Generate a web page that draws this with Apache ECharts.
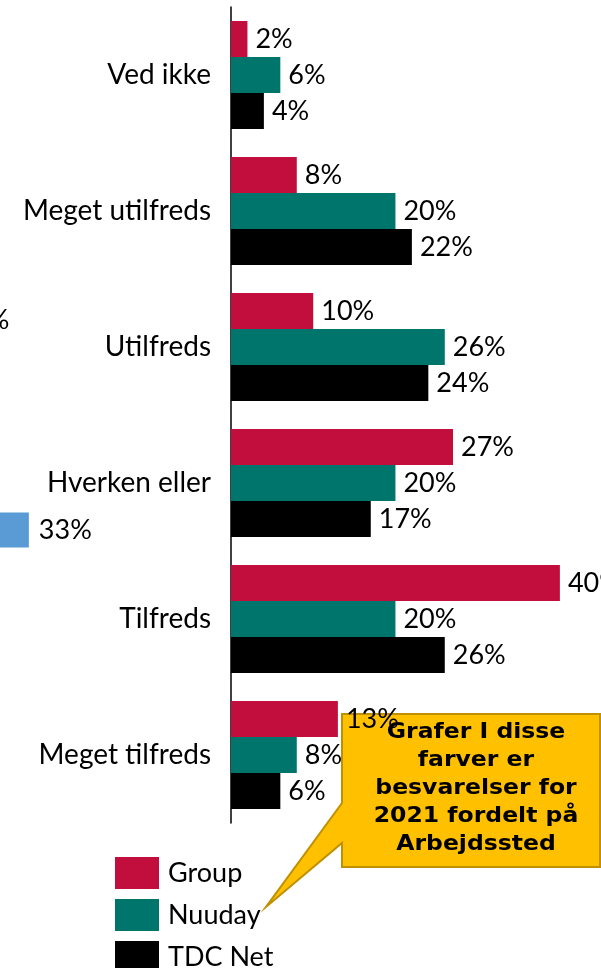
<!DOCTYPE html>
<html>
<head>
<meta charset="utf-8">
<script src="https://cdn.jsdelivr.net/npm/echarts@6/dist/echarts.min.js"></script>
<style>
  html, body { margin: 0; padding: 0; background: #fff; }
  #chart { width: 601px; height: 968px; }
</style>
</head>
<body>
<div id="chart"></div>
<script>
// svarkategorier (top -> bund)
const categories = ['Ved ikke', 'Meget utilfreds', 'Utilfreds', 'Hverken eller', 'Tilfreds', 'Meget tilfreds']
const groupValues = [2, 8, 10, 27, 40, 13]
const nuudayValues = [6, 20, 26, 20, 20, 8]
const tdcNetValues = [4, 22, 24, 17, 26, 6]
const legendNames = ['Group', 'Nuuday', 'TDC Net']

// rest af en anden graf, der er skåret af i venstre kant
const sideCats = ['a', 'b']
const sideValues = [23, 33]

const calloutText = 'Grafer I disse\nfarver er\nbesvarelser for\n2021 fordelt på\nArbejdssted'

const font = 'Lato, "Open Sans", sans-serif'

let chart = echarts.init(document.getElementById('chart'))

function valueLabel(distance) {
  return {
    show: true,
    position: 'right',
    distance: distance,
    formatter: '{c}%',
    color: '#000',
    fontSize: 27,
    fontFamily: font
  }
}

function barSeries(name, data, color) {
  return {
    name: name,
    type: 'bar',
    z: 10,
    data: data,
    barWidth: 36,
    barGap: '0%',
    itemStyle: { color: color },
    label: valueLabel(8)
  }
}

// en legend pr. serie, saa de staar under hinanden (sidste skaeres af i bunden)
let legends = legendNames.map((name, i) => ({
  orient: 'vertical',
  left: 115,
  top: 857 + i * 42,
  padding: 0,
  itemWidth: 44,
  itemHeight: 32,
  icon: 'rect',
  data: [name],
  textStyle: { color: '#000', fontSize: 27, fontFamily: font, padding: [0, 0, 0, 4] }
}))

let option = {
  animation: false,
  backgroundColor: '#fff',
  grid: [
    { left: 231, top: 7, width: 371, height: 816 },
    { left: 0, top: 215, width: 371, height: 420 }
  ],
  xAxis: [
    { gridIndex: 0, type: 'value', min: 0, max: 45, show: false },
    // nul-punktet ligger uden for billedet til venstre
    { gridIndex: 1, type: 'value', min: 29.5, max: 74.5, show: false }
  ],
  yAxis: [
    {
      gridIndex: 0,
      type: 'category',
      inverse: true,
      data: categories,
      axisLine: { show: true, lineStyle: { color: '#000', width: 1.5 } },
      axisTick: { show: false },
      axisLabel: { margin: 20, color: '#000', fontSize: 28, fontFamily: font }
    },
    { gridIndex: 1, type: 'category', inverse: true, data: sideCats, show: false }
  ],
  legend: legends,
  series: [
    barSeries('Group', groupValues, '#C20E3C'),
    barSeries('Nuuday', nuudayValues, '#00756C'),
    barSeries('TDC Net', tdcNetValues, '#000000'),
    {
      type: 'bar',
      xAxisIndex: 1,
      yAxisIndex: 1,
      clip: false,
      data: sideValues,
      barWidth: 35,
      itemStyle: { color: '#5B9BD5' },
      label: valueLabel(10)
    }
  ],
  graphic: {
    z: 0,
    elements: [
      {
        type: 'polygon',
        z: 0,
        shape: {
          points: [[342, 714], [600, 714], [600, 867], [342, 867], [342, 843], [266, 907], [342, 803]]
        },
        style: { fill: '#FFC000', stroke: '#BF9000', lineWidth: 2 }
      },
      {
        type: 'text',
        z: 0,
        x: 476,
        y: 789,
        scaleX: 1.12,
        style: {
          text: calloutText,
          fill: '#000',
          font: 'bold 21px "DejaVu Sans", sans-serif',
          lineHeight: 28,
          textAlign: 'center',
          textVerticalAlign: 'middle'
        }
      }
    ]
  }
}

chart.setOption(option)
</script>
</body>
</html>
